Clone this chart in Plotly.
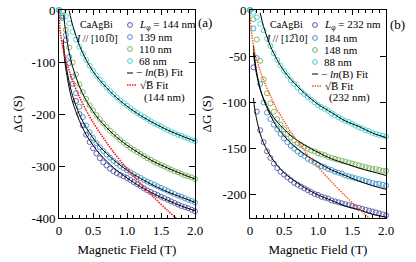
import plotly.graph_objects as go

W, H = 416, 262

B_FIELD = [0.00, 0.05, 0.10, 0.15, 0.20, 0.25, 0.30, 0.35, 0.40, 0.45, 0.50,
           0.55, 0.60, 0.65, 0.70, 0.75, 0.80, 0.85, 0.90, 0.95, 1.00,
           1.05, 1.10, 1.15, 1.20, 1.25, 1.30, 1.35, 1.40, 1.45, 1.50,
           1.55, 1.60, 1.65, 1.70, 1.75, 1.80, 1.85, 1.90, 1.95, 2.00]

# ---- panel (a): I // [10-10] ----
A_144 = [0, -15, -58, -102, -142, -175, -200, -222, -240, -254, -266, -276, -285, -293, -299, -305,
         -310, -314, -317, -320, -323, -327, -331, -335, -339, -343, -347, -350, -353, -356, -359,
         -362, -365, -368, -371, -374, -377, -379, -381, -384, -387]
A_139 = [0, -12, -48, -90, -128, -160, -186, -206, -222, -235, -246, -256, -264, -271, -278, -284,
         -290, -295, -300, -304, -308, -312, -316, -320, -323, -327, -330, -333, -336, -339, -342,
         -345, -348, -351, -354, -357, -359, -362, -365, -367, -370]
A_110 = [0, -10, -38, -72, -101, -124, -143, -158, -171, -183, -193, -202, -210, -218, -225, -232,
         -238, -244, -250, -255, -260, -265, -269, -273, -277, -281, -285, -288, -292, -295, -298,
         -301, -304, -307, -310, -312, -315, -318, -320, -322, -325]
A_68 = [0, -3, -12, -26, -42, -57, -71, -84, -96, -107, -117, -126, -134, -142, -149, -156,
        -162, -168, -174, -179, -184, -189, -194, -198, -202, -206, -210, -214, -218, -221, -224,
        -228, -231, -234, -237, -240, -242, -245, -247, -250, -252]

FIT_A_B = [0.06, 0.08, 0.1, 0.15, 0.2, 0.3, 0.4, 0.5, 0.6, 0.8, 1.0, 1.2, 1.4, 1.6, 1.8, 2.0]
FIT_A_144 = [-67, -93, -113, -150, -177, -213, -240, -260, -277, -303, -323, -340, -354, -366, -377, -386]
FIT_A_139 = [-58, -83, -103, -139, -165, -201, -226, -246, -263, -288, -308, -324, -338, -350, -360, -370]
FIT_A_110_B = [0.07, 0.08, 0.1, 0.15, 0.2, 0.3, 0.4, 0.5, 0.6, 0.8, 1.0, 1.2, 1.4, 1.6, 1.8, 2.0]
FIT_A_110 = [-10, -23, -44, -82, -109, -147, -174, -195, -212, -239, -260, -277, -292, -304, -315, -325]
FIT_A_68_B = [0.15, 0.2, 0.3, 0.4, 0.5, 0.6, 0.8, 1.0, 1.2, 1.4, 1.6, 1.8, 2.0]
FIT_A_68 = [-1, -29, -68, -96, -118, -135, -163, -185, -203, -218, -231, -242, -252]

SQRT_A_B = [0, 0.01, 0.02, 0.05, 0.1, 0.2, 0.3, 0.4, 0.5, 0.6, 0.8, 1.0, 1.2, 1.4, 1.6, 1.8]
SQRT_A = [0, -31, -43, -68, -96, -136, -167, -193, -216, -236, -273, -305, -334, -361, -386, -409]

# ---- panel (b): I // [1-210] ----
B_232 = [0, -62, -110, -130, -143, -153, -160, -166, -171, -175, -178, -181, -184, -187, -189, -191,
         -193, -195, -197, -199, -200, -202, -203, -204, -206, -207, -208, -209, -210, -211, -212,
         -213, -214, -215, -216, -217, -218, -219, -220, -221, -222]
B_184 = [0, -20, -52, -80, -100, -111, -118, -124, -129, -134, -139, -143, -147, -150, -153, -156,
         -158, -161, -163, -165, -167, -169, -170, -172, -173, -175, -176, -177, -179, -180, -181,
         -182, -183, -184, -185, -186, -187, -188, -188, -189, -190]
B_148 = [0, -10, -32, -55, -75, -90, -101, -110, -118, -124, -129, -134, -138, -141, -144, -146,
         -148, -150, -152, -153, -155, -156, -157, -159, -160, -161, -162, -163, -164, -165, -166,
         -167, -168, -169, -170, -171, -172, -172, -173, -174, -174]
B_88 = [0, -3, -8, -15, -22, -31, -39, -47, -54, -60, -66, -71, -76, -80, -84, -88,
        -91, -94, -97, -100, -103, -105, -107, -109, -112, -114, -116, -118, -120, -121, -123,
        -125, -127, -128, -130, -131, -133, -134, -135, -136, -137]

FIT_B_B = [0.05, 0.07, 0.1, 0.15, 0.2, 0.3, 0.4, 0.5, 0.6, 0.8, 1.0, 1.2, 1.4, 1.6, 1.8, 2.0]
FIT_B_232 = [-95, -107, -119, -134, -144, -158, -168, -176, -182, -192, -200, -206, -212, -216, -221, -224]
FIT_B_184 = [-39, -53, -68, -85, -97, -114, -127, -136, -144, -156, -165, -173, -179, -185, -190, -194]
FIT_B_148 = [-46, -58, -71, -86, -96, -111, -121, -129, -136, -146, -154, -161, -166, -171, -175, -179]
FIT_B_88_B = [0.15, 0.2, 0.3, 0.4, 0.5, 0.6, 0.8, 1.0, 1.2, 1.4, 1.6, 1.8, 2.0]
FIT_B_88 = [-3, -18, -39, -54, -66, -75, -90, -102, -111, -120, -126, -133, -138]

SQRT_B_B = [0, 0.01, 0.02, 0.05, 0.1, 0.2, 0.3, 0.4, 0.5, 0.6, 0.8, 1.0, 1.2, 1.4, 1.6, 1.8]
SQRT_B = [0, -17, -24, -38, -54, -76, -93, -108, -120, -132, -152, -170, -186, -201, -215, -228]

C_DARK = "#5557a8"
C_BLUE = "#3c92cf"
C_GREEN = "#74b257"
C_CYAN = "#3fd2d2"
RED_A = "#ff1a1a"
RED_B = "#ff5a22"
FONT = "Liberation Serif"

fig = go.Figure()


def data_trace(y, color, xa, ya):
    fig.add_trace(go.Scatter(x=B_FIELD, y=y, mode="markers", xaxis=xa, yaxis=ya,
                             marker=dict(symbol="circle-open", size=5, color=color,
                                         line=dict(width=0.9, color=color)),
                             cliponaxis=False, showlegend=False))


def fit_trace(x, y, xa, ya, color="black", dash="solid", width=1.0):
    fig.add_trace(go.Scatter(x=x, y=y, mode="lines", xaxis=xa, yaxis=ya,
                             line=dict(color=color, width=width, dash=dash, shape="spline", smoothing=0.8),
                             showlegend=False))


for series, col in [(A_144, C_DARK), (A_139, C_BLUE), (A_110, C_GREEN), (A_68, C_CYAN)]:
    data_trace(series, col, "x", "y")
fit_trace(FIT_A_B, FIT_A_144, "x", "y")
fit_trace(FIT_A_B, FIT_A_139, "x", "y")
fit_trace(FIT_A_110_B, FIT_A_110, "x", "y")
fit_trace(FIT_A_68_B, FIT_A_68, "x", "y")
fit_trace(SQRT_A_B, SQRT_A, "x", "y", color=RED_A, dash="1.5px,1px", width=1.6)

for series, col in [(B_232, C_DARK), (B_184, C_BLUE), (B_148, C_GREEN), (B_88, C_CYAN)]:
    data_trace(series, col, "x2", "y2")
fit_trace(FIT_B_B, FIT_B_232, "x2", "y2")
fit_trace(FIT_B_B, FIT_B_184, "x2", "y2")
fit_trace(FIT_B_B, FIT_B_148, "x2", "y2")
fit_trace(FIT_B_88_B, FIT_B_88, "x2", "y2")
fit_trace(SQRT_B_B, SQRT_B, "x2", "y2", color=RED_B, dash="1.5px,1px", width=1.4)


def px(x):
    return x / W


def py(y):
    return 1 - y / H


tickfont = dict(family=FONT, size=13, color="black")
titlefont = dict(family=FONT, size=13, color="black")
base = dict(showline=True, linecolor="black", linewidth=1, mirror="allticks", ticks="inside",
            tickcolor="black", showgrid=False, zeroline=False, tickfont=tickfont, automargin=False)

xcommon = dict(base, range=[0, 2], tickvals=[0, 0.5, 1, 1.5, 2],
               ticktext=["0", "0.5", "1.0", "1.5", "2.0"], ticklen=5,
               minor=dict(ticks="inside", ticklen=3, tick0=0, dtick=0.1, tickcolor="black", showgrid=False),
               title=dict(text="Magnetic Field (T)", font=titlefont, standoff=8))

Y_TOP, Y_BOT = 10, 218
fig.update_layout(
    width=W, height=H, margin=dict(l=0, r=0, t=0, b=0), autosize=False,
    template="none", paper_bgcolor="white", plot_bgcolor="white", showlegend=False,
    xaxis=dict(xcommon, domain=[px(59), px(195)], anchor="y"),
    yaxis=dict(base, domain=[py(Y_BOT), py(Y_TOP)], anchor="x", range=[-400, 0],
               tickvals=[-400, -300, -200, -100, 0], ticktext=["-400", "-300", "-200", "-100", "0"],
               ticklen=6, title=dict(text="ΔG (S)", font=titlefont, standoff=6)),
    xaxis2=dict(xcommon, domain=[px(250), px(386)], anchor="y2"),
    yaxis2=dict(base, domain=[py(Y_BOT), py(Y_TOP)], anchor="x2", range=[-225, 0],
                tickvals=[-200, -150, -100, -50, 0], ticktext=["-200", "-150", "-100", "-50", "0"],
                ticklen=6, title=dict(text="ΔG (S)", font=titlefont, standoff=8)),
)

annotations = []
shapes = []


def text(x, y, s, size=11, anchor="left"):
    annotations.append(dict(x=px(x), y=py(y), xref="paper", yref="paper", text=s, showarrow=False,
                            xanchor=anchor, yanchor="middle", font=dict(family=FONT, size=size, color="black")))


def circle(cx, cy, color, r=2.4):
    shapes.append(dict(type="circle", xref="paper", yref="paper", x0=px(cx - r), x1=px(cx + r),
                       y0=py(cy + r), y1=py(cy - r), line=dict(color=color, width=1)))


def seg(x0, x1, y, color, dash="solid", width=1):
    shapes.append(dict(type="line", xref="paper", yref="paper", x0=px(x0), x1=px(x1), y0=py(y), y1=py(y),
                       line=dict(color=color, width=width, dash=dash)))


def legend_block(sx, tx, rows, sample, note):
    labels = [("<i>L</i><sub>φ</sub> = %s nm" % sample[0], C_DARK),
              ("%s nm" % sample[1], C_BLUE), ("%s nm" % sample[2], C_GREEN), ("%s nm" % sample[3], C_CYAN)]
    for (lab, col), ry in zip(labels, rows[:4]):
        circle(sx, ry, col)
        text(tx, ry, lab)
    seg(sx - 3, sx + 3, rows[4], "black")
    text(tx - 3, rows[4], "− <i>ln</i>(B) Fit")
    seg(sx - 3, sx + 6, rows[5], note[1], dash="1.5px,1px", width=1.6)
    text(tx + 1, rows[5], "√B\u0305 Fit")
    text(tx + 5, rows[6], "(%s nm)" % note[0])


legend_block(130, 137, [25, 37, 49, 61, 73, 85, 97], ["144", "139", "110", "68"], ["144", RED_A])
legend_block(315, 322, [25, 38, 50, 62, 74, 86, 97], ["232", "184", "148", "88"], ["232", RED_B])

text(96, 25, "CaAgBi", size=10, anchor="center")
text(97, 38, "<i>I</i> // [101\u03050]", size=10, anchor="center")
text(286, 25, "CaAgBi", size=10, anchor="center")
text(287, 39, "<i>I</i> // [12\u030510]", size=10, anchor="center")
text(205, 23, "(a)", size=13, anchor="center")
text(397, 24, "(b)", size=13, anchor="center")

fig.update_layout(annotations=annotations, shapes=shapes)
fig.write_html("out.html", config={"displayModeBar": False},
               post_script="document.body.style.margin='0px';document.body.style.overflow='hidden';")
